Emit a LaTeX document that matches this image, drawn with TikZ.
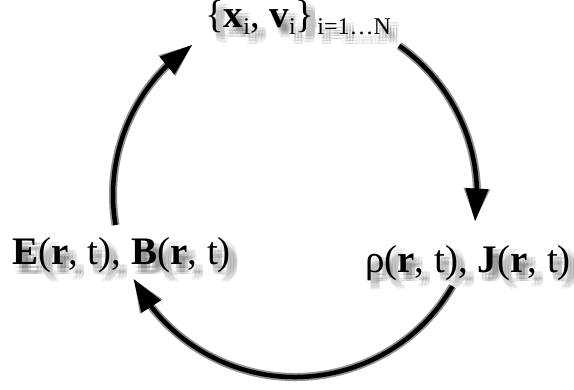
\documentclass[tikz,border=0pt]{standalone}
\usepackage{fontspec}
\setmainfont{Liberation Serif}
\usetikzlibrary{arrows.meta,bending}
\newcommand\mysub[1]{\raisebox{-7pt}{\fontsize{24}{26}\selectfont #1}}
\newcommand\toptext{\{\textbf{x}\mysub{i}, \textbf{v}\mysub{i}\}\kern3pt\mysub{i=1\ldots N}}
\newcommand\lefttext{\textbf{E}(\textbf{r}, t), \textbf{B}(\textbf{r}, t)}
\newcommand\righttext{ρ(\textbf{r}, t), \textbf{J}(\textbf{r}, t)}
\begin{document}
\begin{tikzpicture}[x=1pt,y=1pt,
  cyc/.style={line width=4.5pt,draw=black,-{Triangle[length=33pt,width=22pt]}},
  shd/.style={line width=8pt,draw=black,opacity=0.06,-{Triangle[length=33pt,width=24pt]}},
  lbl/.style={inner sep=0pt,anchor=base west,font=\fontsize{39}{44}\selectfont},
  lshd/.style={lbl,text=black,text opacity=0.08}]
\useasboundingbox[fill=white] (0,0) rectangle (574,389);
\coordinate (c) at (295,194);
% shadows of arcs
\foreach \dx in {4,7,10}{
  \foreach \dy in {-4,-7,-10}{
    \begin{scope}[shift={(\dx,\dy)}]
      \draw[shd] ([shift={(189.5:182pt)}]c) arc[start angle=189.5,end angle=124.3,radius=182pt];
      \draw[shd] ([shift={(55.1:182pt)}]c) arc[start angle=55.1,end angle=-8.4,radius=182pt];
      \draw[shd] ([shift={(-30.1:182pt)}]c) arc[start angle=-30.1,end angle=-152.6,radius=182pt];
    \end{scope}
  }
}
% shadows of texts
\foreach \dx [count=\i] in {3,6,9}{
  \foreach \dy [count=\j] in {-4,-7,-10}{
    \node[lshd] (ts\i\j) at (205+\dx,361+\dy) {\toptext};
    \node[lshd] (ls\i\j) at (12+\dx,124+\dy) {\lefttext};
    \node[lshd] (rs\i\j) at (365+\dx,117+\dy) {\righttext};
  }
}
% texts
\node[lbl] (top) at (205,361) {\toptext};
\node[lbl] (left) at (12,124) {\lefttext};
\node[lbl] (right) at (365,117) {\righttext};
% cycle arrows
\draw[cyc] ([shift={(189.5:182pt)}]c) arc[start angle=189.5,end angle=124.3,radius=182pt];
\draw[cyc] ([shift={(55.1:182pt)}]c) arc[start angle=55.1,end angle=-8.4,radius=182pt];
\draw[cyc] ([shift={(-30.1:182pt)}]c) arc[start angle=-30.1,end angle=-152.6,radius=182pt];
\end{tikzpicture}
\end{document}
